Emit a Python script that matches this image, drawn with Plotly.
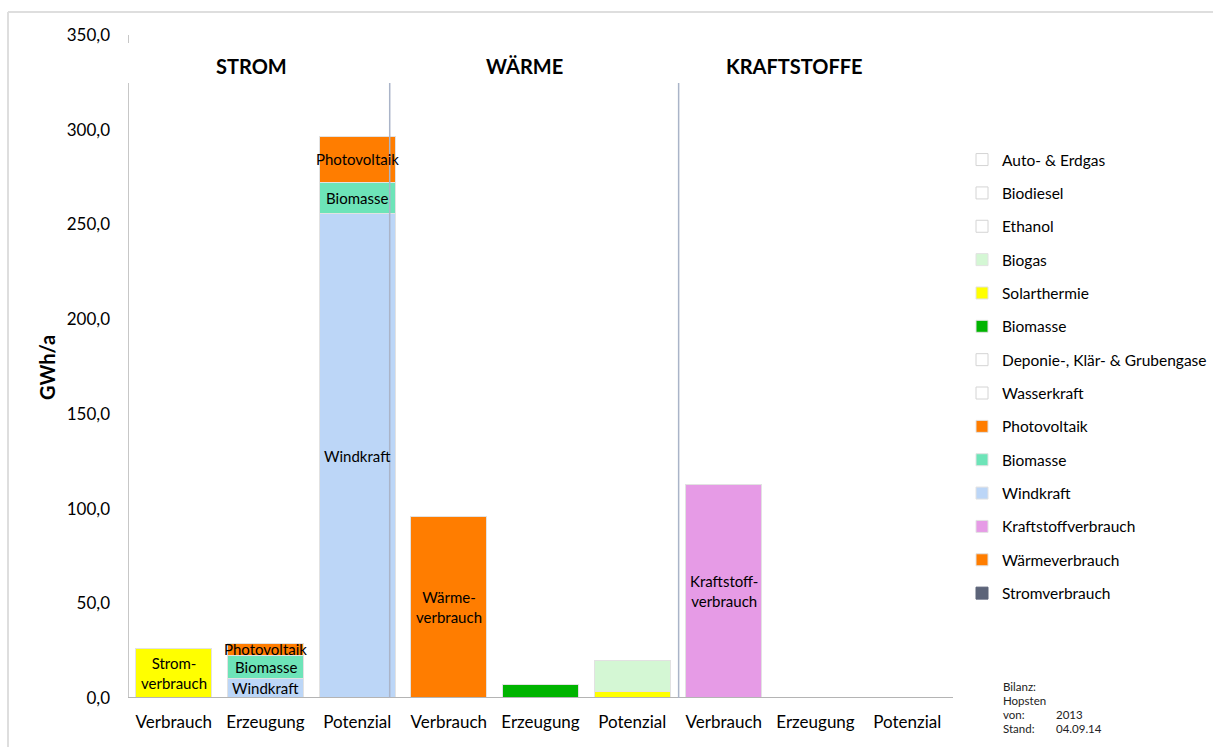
import plotly.graph_objects as go

# Kategorien je Sektor (Strom, Wärme, Kraftstoffe)
tick_labels = ["Verbrauch", "Erzeugung", "Potenzial"] * 3
sections = ["STROM", "WÄRME", "KRAFTSTOFFE"]

# Werte in GWh/a je Kategorie (None = kein Balken)
stromverbrauch      = [26.0, None, None, None, None, None, None, None, None]
waermeverbrauch     = [None, None, None, 96.0, None, None, None, None, None]
kraftstoffverbrauch = [None, None, None, None, None, None, 112.5, None, None]
windkraft           = [None, 10.5, 256.0, None, None, None, None, None, None]
biomasse_strom      = [None, 12.2, 16.4, None, None, None, None, None, None]
photovoltaik        = [None, 6.3, 23.8, None, None, None, None, None, None]
wasserkraft         = [None] * 9
deponiegase         = [None] * 9
biomasse_waerme     = [None, None, None, None, 7.0, None, None, None, None]
solarthermie        = [None, None, None, None, None, 3.5, None, None, None]
biogas              = [None, None, None, None, None, 16.3, None, None, None]
ethanol             = [None] * 9
biodiesel           = [None] * 9
auto_erdgas         = [None] * 9

x_idx = list(range(len(tick_labels)))

FONT = "Lato"
ORANGE = "#ff7d00"
EDGE = "#e2e2e2"
EMPTY_EDGE = "#d4d4d4"

# Pixel-Layout der Zeichenfläche
W, H = 1214, 747
L, R, T, B = 128, 261, 35, 49
PW, PH = W - L - R, H - T - B


def px_x(px):
    return (px - L) / PW


def px_y(py):
    return 1 - (py - T) / PH


# (Name, Werte, Farbe, Randfarbe, Legende zeigen) in Stapelreihenfolge
series = [
    ("Stromverbrauch", stromverbrauch, "#ffff00", EDGE, False),
    ("Wärmeverbrauch", waermeverbrauch, ORANGE, EDGE, True),
    ("Kraftstoffverbrauch", kraftstoffverbrauch, "#e69be6", EDGE, True),
    ("Windkraft", windkraft, "#bcd6f7", EDGE, True),
    ("Biomasse", biomasse_strom, "#6de4b8", EDGE, True),
    ("Photovoltaik", photovoltaik, ORANGE, EDGE, True),
    ("Wasserkraft", wasserkraft, "#ffffff", EMPTY_EDGE, True),
    ("Deponie-, Klär- & Grubengase", deponiegase, "#ffffff", EMPTY_EDGE, True),
    ("Biomasse", biomasse_waerme, "#00b400", EDGE, True),
    ("Solarthermie", solarthermie, "#ffff00", EDGE, True),
    ("Biogas", biogas, "#d4f7d4", EDGE, True),
    ("Ethanol", ethanol, "#ffffff", EMPTY_EDGE, True),
    ("Biodiesel", biodiesel, "#ffffff", EMPTY_EDGE, True),
    ("Auto- & Erdgas", auto_erdgas, "#ffffff", EMPTY_EDGE, True),
]
n_series = len(series)

fig = go.Figure()

# Legendeneintrag Stromverbrauch (schiefergrau), der Balken selbst ist gelb
fig.add_trace(go.Bar(
    x=[None], y=[None], name="Stromverbrauch", legendgroup="g0",
    legendrank=n_series,
    marker=dict(color="#5c6479", line=dict(color="#5c6479", width=1)),
    showlegend=True,
))

for i, (name, vals, color, edge, show) in enumerate(series):
    fig.add_trace(go.Bar(
        x=x_idx, y=vals, name=name, legendgroup=f"g{i}",
        legendrank=n_series - i,
        marker=dict(color=color, line=dict(color=edge, width=1)),
        showlegend=show, hoverinfo="x+y+name",
    ))

# Beschriftungen in den Balken, aus den gestapelten Werten berechnet
label_text = {
    "Stromverbrauch": "Strom-<br>verbrauch",
    "Wärmeverbrauch": "Wärme-<br>verbrauch",
    "Kraftstoffverbrauch": "Kraftstoff-<br>verbrauch",
    "Windkraft": "Windkraft",
    "Biomasse": "Biomasse",
    "Photovoltaik": "Photovoltaik",
}
base = [0.0] * len(x_idx)
annotations = []
for name, vals, color, edge, show in series:
    for k, v in enumerate(vals):
        if v is None:
            continue
        if name in label_text and not (name == "Biomasse" and color == "#00b400"):
            annotations.append(dict(
                x=k, y=base[k] + v / 2, xref="x", yref="y",
                text=label_text[name], showarrow=False,
                font=dict(family=FONT, size=15, color="#000000"),
            ))
        base[k] += v

# Sektorüberschriften
for sx, title in zip([0.85, 3.82, 6.77], sections):
    annotations.append(dict(
        x=sx, y=333.7, xref="x", yref="y", text=f"<b>{title}</b>",
        showarrow=False, font=dict(family=FONT, size=20, color="#000000"),
    ))

# Achsentitel
annotations.append(dict(
    x=px_x(47), y=px_y(368), xref="paper", yref="paper", text="<b>GWh/a</b>",
    textangle=-90, showarrow=False, xanchor="center", yanchor="middle",
    font=dict(family=FONT, size=20, color="#000000"),
))

# Fußnote
foot_left = ["Bilanz:", "Hopsten", "von:", "Stand:"]
foot_right = ["", "", "2013", "04.09.14"]
for j, (a, b) in enumerate(zip(foot_left, foot_right)):
    yy = 686 + j * 14
    annotations.append(dict(
        x=px_x(1001), y=px_y(yy), xref="paper", yref="paper", text=a,
        xanchor="left", yanchor="middle", showarrow=False,
        font=dict(family=FONT, size=11.5, color="#222222"),
    ))
    if b:
        annotations.append(dict(
            x=px_x(1054), y=px_y(yy), xref="paper", yref="paper", text=b,
            xanchor="left", yanchor="middle", showarrow=False,
            font=dict(family=FONT, size=11.5, color="#222222"),
        ))

shapes = [
    # Rahmen oben und links
    dict(type="line", xref="paper", yref="paper", x0=px_x(8), x1=px_x(1213),
         y0=px_y(12), y1=px_y(12), line=dict(color="#dedede", width=2)),
    dict(type="line", xref="paper", yref="paper", x0=px_x(8), x1=px_x(8),
         y0=px_y(12), y1=px_y(747), line=dict(color="#dedede", width=2)),
    # y-Achse (unterbrochen)
    dict(type="line", xref="x", yref="y", x0=-0.5, x1=-0.5, y0=0, y1=324.7,
         line=dict(color="#b4b4b4", width=1.5)),
    dict(type="line", xref="x", yref="y", x0=-0.5, x1=-0.5, y0=345.8, y1=351.6,
         line=dict(color="#b4b4b4", width=1.5)),
    # Grundlinie
    dict(type="line", xref="x", yref="y", x0=-0.5, x1=8.52, y0=0, y1=0,
         line=dict(color="#b4b4b4", width=2)),
    # Sektortrenner
    dict(type="line", xref="x", yref="y", x0=2.355, x1=2.355, y0=0, y1=324.7,
         line=dict(color="#aab4c8", width=1.5)),
    dict(type="line", xref="x", yref="y", x0=5.507, x1=5.507, y0=0, y1=324.7,
         line=dict(color="#aab4c8", width=1.5)),
]

fig.update_layout(
    width=W, height=H,
    margin=dict(l=L, r=R, t=T, b=B, autoexpand=False),
    paper_bgcolor="white", plot_bgcolor="white",
    barmode="stack", bargap=0.17,
    separators=",.",
    font=dict(family=FONT, size=15, color="#000000"),
    xaxis=dict(
        range=[-0.5, 8.5], tickmode="array", tickvals=x_idx, ticktext=tick_labels,
        showgrid=False, zeroline=False, showline=False, ticks="",
        ticklabelstandoff=12,
        tickfont=dict(family=FONT, size=17, color="#000000"),
    ),
    yaxis=dict(
        range=[0, 350], tickmode="array", tickvals=[0, 50, 100, 150, 200, 250, 300, 350],
        tickformat=".1f", showgrid=False, zeroline=False, showline=False, ticks="",
        ticklabelstandoff=17,
        tickfont=dict(family=FONT, size=17, color="#000000"),
    ),
    legend=dict(
        x=px_x(962), y=px_y(143), xanchor="left", yanchor="top",
        traceorder="grouped", tracegroupgap=10.2,
        font=dict(family=FONT, size=15.5, color="#000000"),
        bgcolor="rgba(0,0,0,0)",
    ),
    annotations=annotations,
    shapes=shapes,
)

fig.write_html("out.html")
